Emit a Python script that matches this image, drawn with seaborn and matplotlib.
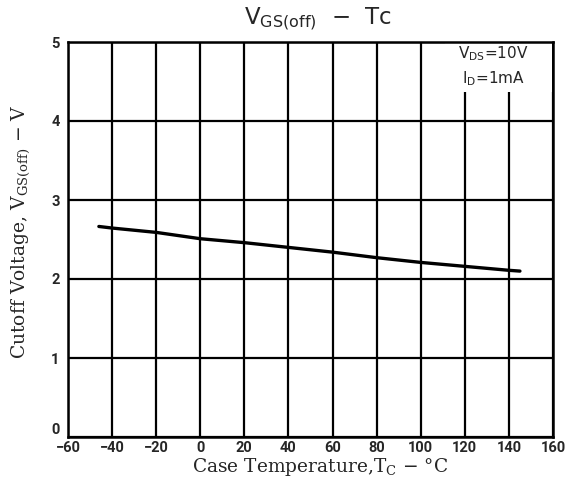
import matplotlib
matplotlib.use("Agg")
import matplotlib.pyplot as plt
import matplotlib.patches as mpatches
import seaborn as sns
import pandas as pd

# Data
temperature_c = [-46, -40, -20, 0, 20, 40, 60, 80, 100, 120, 140, 145]
vgs_off_v = [2.665, 2.645, 2.59, 2.51, 2.46, 2.40, 2.34, 2.27, 2.21, 2.16, 2.11, 2.10]
x_ticks = [-60, -40, -20, 0, 20, 40, 60, 80, 100, 120, 140, 160]
y_ticks = [0, 1, 2, 3, 4, 5]

df = pd.DataFrame({"Tc": temperature_c, "VGS": vgs_off_v})

sns.set_theme(style="white")
plt.rcParams["font.family"] = ["DejaVu Sans"]

fig = plt.figure(figsize=(5.77, 4.92), dpi=100)
ax = fig.add_axes([68/577, 1-437/492, (553-68)/577, (437-42)/492])

ax.set_xlim(-60, 160)
ax.set_ylim(0, 5)
ax.set_xticks(x_ticks)
ax.set_yticks(y_ticks)
ax.grid(True, color="black", linewidth=1.6, zorder=0.5)
ax.set_axisbelow(True)

# white box behind the condition annotation (hides grid lines there)
ax.add_patch(mpatches.Rectangle((0.778, 0.873), 0.22, 0.125, transform=ax.transAxes,
                                facecolor="white", edgecolor="none", zorder=1))

sns.lineplot(data=df, x="Tc", y="VGS", ax=ax, color="black", linewidth=2.4, zorder=3)

for s in ax.spines.values():
    s.set_color("black")
    s.set_linewidth(1.8)
    s.set_zorder(4)

ax.tick_params(axis="both", length=0, pad=3)
ax.tick_params(axis="y", pad=6)
for lab in ax.get_xticklabels() + ax.get_yticklabels():
    lab.set_fontfamily("Roboto")
    lab.set_fontweight("bold")
    lab.set_fontsize(10.5)
ax.get_yticklabels()[0].set_verticalalignment("bottom")

ax.set_xlabel(r"Case Temperature,T$_{\mathrm{C}}$ − °C", fontfamily="DejaVu Serif",
              fontsize=13.4, math_fontfamily="dejavuserif")
ax.xaxis.set_label_coords(0.52, -0.047)
ax.set_ylabel(r"Cutoff Voltage, V$_{\mathrm{GS(off)}}$ − V", fontfamily="DejaVu Serif",
              fontsize=13.5, math_fontfamily="dejavuserif")
ax.yaxis.set_label_coords(-0.074, 0.52)

fig.text(0.551, 1-19/492, r"V$_{\mathrm{GS(off)}}$  −  Tc", ha="center", va="center",
         fontsize=16.5, fontfamily="DejaVu Sans", math_fontfamily="dejavusans")

ax.text(0.877, 0.94, r"V$_{\mathrm{DS}}$=10V" + "\n" + r"I$_{\mathrm{D}}$=1mA",
        transform=ax.transAxes, ha="center", va="center", fontsize=11,
        fontfamily="DejaVu Sans", math_fontfamily="dejavusans", linespacing=1.45, zorder=5)

fig.savefig("out.png", dpi=100)
